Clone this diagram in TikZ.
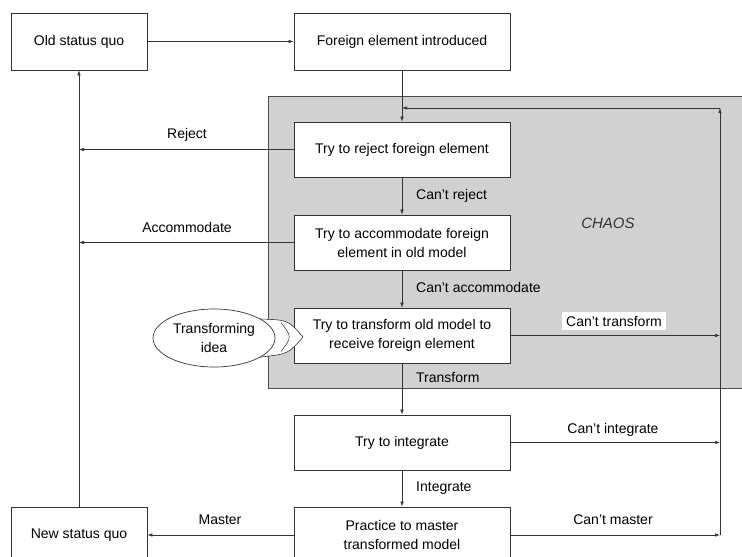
\documentclass[tikz,border=0pt]{standalone}
\usepackage{fontspec}
\setmainfont{Liberation Sans}
\usetikzlibrary{arrows.meta,shapes.geometric}
\begin{document}
\begin{tikzpicture}[x=1pt,y=-1pt,
  font=\fontsize{14}{19}\selectfont,
  box/.style={draw=black!80, fill=white, line width=0.7pt, minimum width=216pt,
              minimum height=55pt, align=center, inner sep=0pt},
  sbox/.style={box, minimum width=136pt, minimum height=57pt},
  link/.style={draw=black!80, line width=0.6pt, -{Latex[length=5pt,width=3.5pt]}},
  lbl/.style={inner sep=0pt, anchor=west},
  clbl/.style={inner sep=0pt}
]
\clip (0,0) rectangle (742,557);
\fill[white] (0,0) rectangle (742,557);

% shaded chaos region
\draw[fill=black!18, draw=black!70, line width=0.6pt] (268,96) rectangle (760,388);
\node[font=\fontsize{15}{18}\selectfont\itshape, text=black!80] (chaos) at (608,223) {CHAOS};

% boxes
\node[sbox] (old) at (79,41.5) {Old status quo};
\node[box, minimum height=57pt] (foreign) at (402,41.5) {Foreign element introduced};
\node[box] (reject) at (402,149.5) {Try to reject foreign element};
\node[box] (accom) at (402,242.5) {Try to accommodate foreign\\element in old model};
\node[box] (transf) at (402,335.5) {Try to transform old model to\\receive foreign element};
\node[box] (integ) at (402,442.5) {Try to integrate};
\node[box, minimum height=56pt] (practice) at (402,535) {Practice to master\\transformed model};
\node[sbox, minimum height=56pt] (newsq) at (79,535) {New status quo};

% transforming idea bubble with its pointer
\coordinate (tip) at (303,337);
\draw[draw=black!80, fill=white, line width=0.6pt]
  (261,319) .. controls (288,320) .. (tip) .. controls (288,354) .. (261,357) -- cycle;
\node[ellipse, draw=black!80, fill=white, line width=0.7pt, minimum width=122pt,
      minimum height=58pt, align=center, inner sep=0pt] (idea) at (214,338) {Transforming\\idea};
\draw[draw=black!80, line width=0.5pt]
  (281,322.5) .. controls (292,337) .. (281,351.5);

% feedback line on the right
\coordinate (fbtop) at (720,108);

% main flow
\draw[link] (old) -- (foreign);
\draw[link] (foreign) -- (reject);
\draw[link] (reject) -- (accom);
\draw[link] (accom) -- (transf);
\draw[link] (transf) -- (integ);
\draw[link] (integ) -- (practice);

% exits to the left
\draw[link] (reject.west) -- (reject.west -| old.south);
\draw[link] (accom.west) -- (accom.west -| old.south);
\draw[link] (newsq) -- (old);
\draw[link] (practice) -- (newsq);

% failures back into chaos
\draw[link] (transf.east) -- (transf.east -| fbtop);
\draw[link] (integ.east) -- (integ.east -| fbtop);
\draw[link] (practice.east) -- (practice.east -| fbtop);
\draw[link] (practice.east -| fbtop) -- (fbtop);
\draw[link] (fbtop) -- (fbtop -| foreign.south);

% labels
\node[clbl] (lrej) at (187,135) {Reject};
\node[clbl] (lacc) at (187,227) {Accommodate};
\node[lbl] (lcrej) at (416,196) {Can't reject};
\node[lbl] (lcacc) at (416,287) {Can't accommodate};
\node[fill=white, inner sep=4pt] (lctr) at (614,321) {Can't transform};
\node[lbl] (ltr) at (416,377) {Transform};
\node[clbl] (lcint) at (613,430) {Can't integrate};
\node[lbl] (lint) at (416,488) {Integrate};
\node[clbl] (lmas) at (220,520) {Master};
\node[clbl] (lcmas) at (613,520) {Can't master};
\end{tikzpicture}
\end{document}
